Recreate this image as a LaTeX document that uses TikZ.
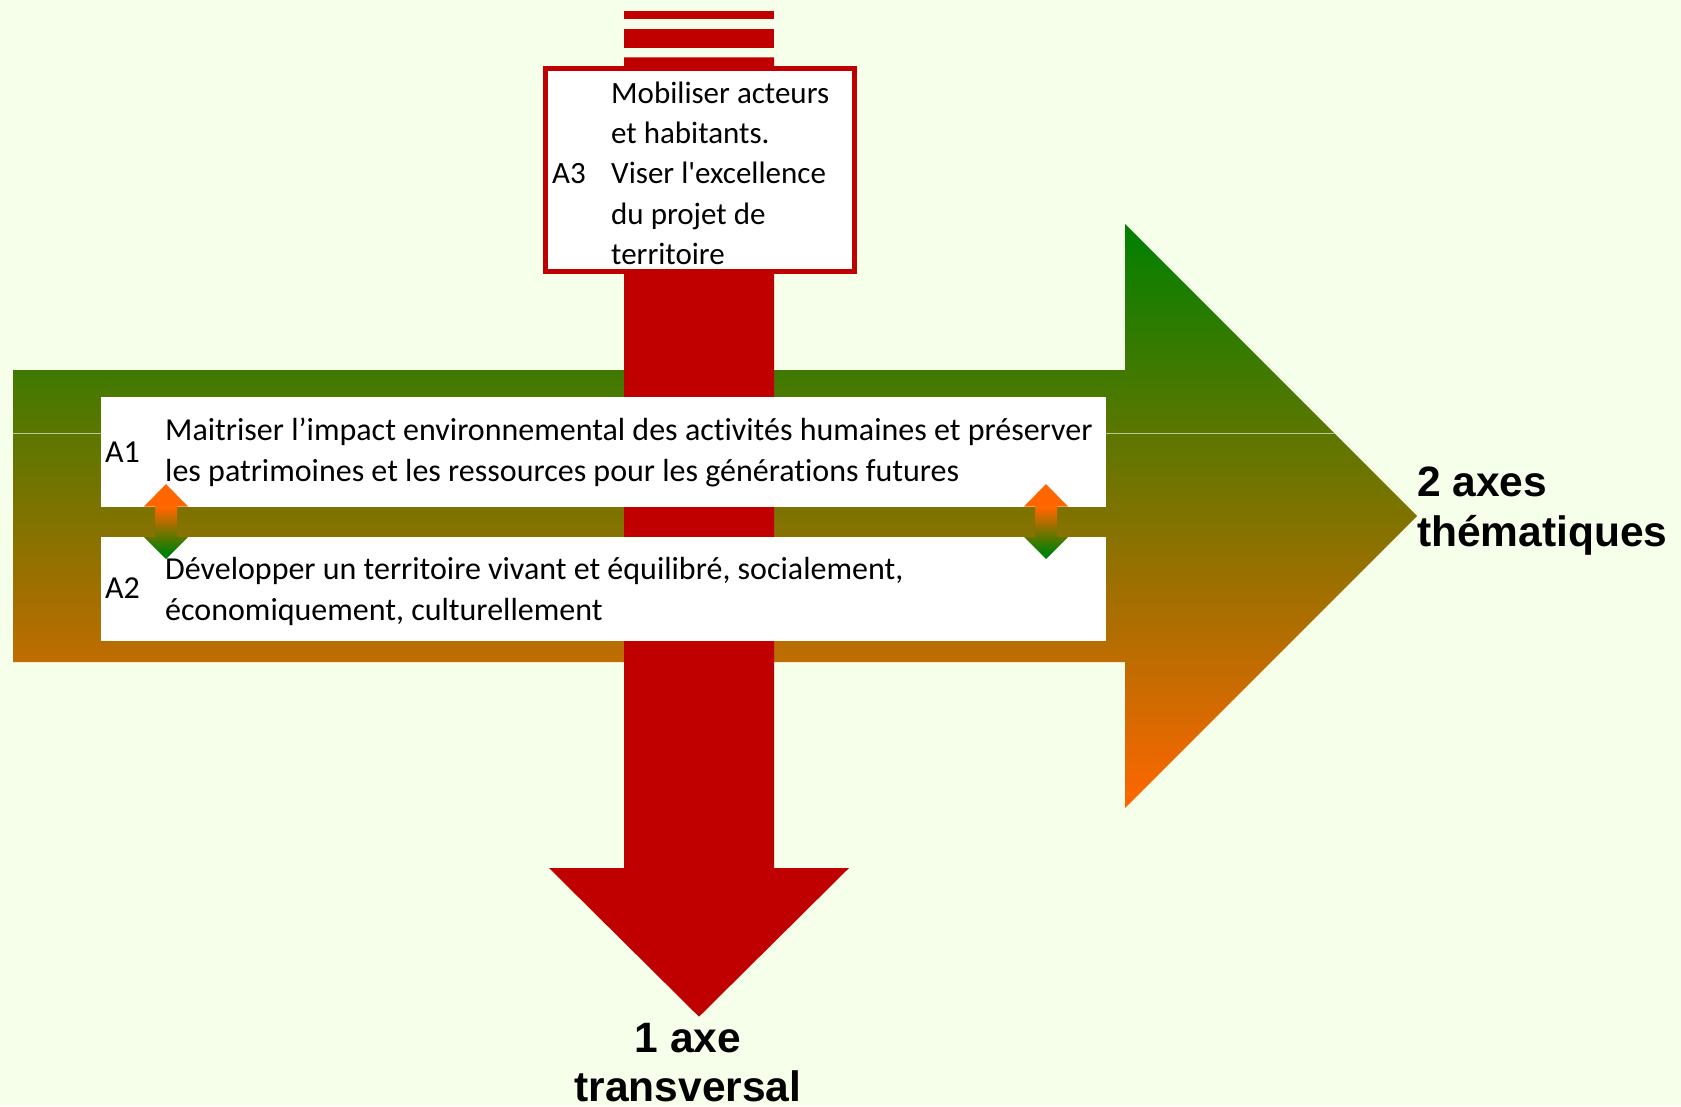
\documentclass[tikz,border=0pt]{standalone}
\usepackage{fontspec}
\setmainfont{Carlito}[Ligatures=NoCommon]
\newfontfamily\boldsans{Liberation Sans}
\definecolor{bg}{RGB}{246,255,234}
\definecolor{dred}{RGB}{192,0,0}
\definecolor{agreen}{RGB}{0,128,0}
\definecolor{aorange}{RGB}{255,102,0}
\pgfdeclareverticalshading{dblshade}{100bp}{color(0bp)=(agreen); color(29bp)=(agreen); color(59bp)=(aorange); color(100bp)=(aorange)}
\tikzset{
  txt/.style={anchor=base west, inner sep=0pt, font=\fontsize{32}{38}\selectfont},
  txtsmall/.style={anchor=base west, inner sep=0pt, font=\fontsize{31}{38}\selectfont},
  bigtxt/.style={inner sep=0pt, font=\boldsans\bfseries\fontsize{42.5}{50}\selectfont},
  whitebox/.style={fill=white, draw=none},
  dblarrow/.style={shading=dblshade, draw=none}
}
\begin{document}
\begin{tikzpicture}[x=1pt,y=-1pt]
\useasboundingbox[fill=bg] (0,0) rectangle (1681,1106);
% green thematic arrow
\shade[top color=agreen, bottom color=aorange]
  (13,370) -- (1125,370) -- (1125,224) -- (1417,516) -- (1125,808) -- (1125,662) -- (13,662) -- cycle;
\draw[white, opacity=0.6, line width=0.8pt] (13,433) -- (1334,433);
% red transversal arrow
\fill[dred] (624,10.7) rectangle (774,19.3);
\fill[dred] (624,29.3) rectangle (774,47.7);
\fill[dred] (624,57.3) -- (774,57.3) -- (774,868) -- (849,868) -- (699,1016.7) -- (549,868) -- (624,868) -- cycle;
% A3 box
\draw[dred, line width=5pt, fill=white] (545.2,68.5) rectangle (854.2,271.5);
% white boxes
\fill[whitebox] (101,397) rectangle (1106,506.7);
\fill[whitebox] (101,536.7) rectangle (1106,640.5);
% small double arrows
\foreach \cx in {166,1046}{
  \shade[dblarrow] (\cx,484) -- (\cx+22,506.5) -- (\cx+11,506.5) -- (\cx+11,537) -- (\cx+22,537) -- (\cx,559)
    -- (\cx-22,537) -- (\cx-11,537) -- (\cx-11,506.5) -- (\cx-22,506.5) -- cycle;
}
% texts
\node[txt] (a1) at (105,462) {A1};
\node[txt] (a1l1) at (165,440.7) {Maitriser l’impact environnemental des activités humaines et préserver};
\node[txt] (a1l2) at (165,481.7) {les patrimoines et les ressources pour les générations futures};
\node[txt] (a2) at (105,598) {A2};
\node[txt] (a2l1) at (165,579.3) {Développer un territoire vivant et équilibré, socialement,};
\node[txt] (a2l2) at (165,620.7) {économiquement, culturellement};
\node[txtsmall] (a3) at (552,183.9) {A3};
\node[txtsmall] (a3l1) at (611,103.5) {Mobiliser acteurs};
\node[txtsmall] (a3l2) at (611,143.7) {et habitants.};
\node[txtsmall] (a3l3) at (611,183.9) {Viser l\textquotesingle excellence};
\node[txtsmall] (a3l4) at (611,224.1) {du projet de};
\node[txtsmall] (a3l5) at (611,264.3) {territoire};
\node[bigtxt, anchor=base west] (t1) at (1417,496) {2 axes};
\node[bigtxt, anchor=base west] (t2) at (1417,546) {thématiques};
\node[bigtxt, anchor=base] (b1) at (688,1052.7) {1 axe};
\node[bigtxt, anchor=base] (b2) at (688,1101.5) {transversal};
\end{tikzpicture}
\end{document}
